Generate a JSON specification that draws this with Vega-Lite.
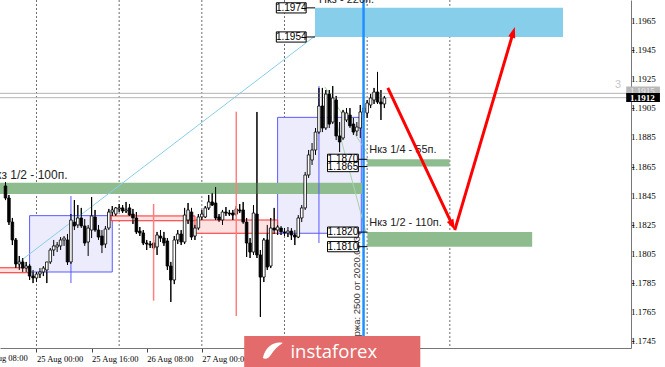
{
"$schema":"https://vega.github.io/schema/vega-lite/v6.json",
"width":631,"height":348,
"autosize":{"type":"none"},
"padding":{"left":0,"top":0,"right":34,"bottom":19},
"background":"white",
"config":{"view":{"stroke":null}},
"datasets":{
"seps":[{"h":24},{"h":48},{"h":72},{"h":96},{"h":120},{"h":144}],
"candles":[
{"h":15,"o":1.18517,"hi":1.18544,"lo":1.18420,"c":1.18434},
{"h":16,"o":1.18434,"hi":1.18455,"lo":1.18249,"c":1.18269},
{"h":17,"o":1.18269,"hi":1.18297,"lo":1.18111,"c":1.18146},
{"h":18,"o":1.18146,"hi":1.18159,"lo":1.17953,"c":1.17981},
{"h":19,"o":1.17981,"hi":1.18036,"lo":1.17940,"c":1.17995},
{"h":20,"o":1.17995,"hi":1.18022,"lo":1.17926,"c":1.17953},
{"h":21,"o":1.17953,"hi":1.17995,"lo":1.17926,"c":1.17967},
{"h":22,"o":1.17967,"hi":1.17981,"lo":1.17871,"c":1.17898},
{"h":23,"o":1.17898,"hi":1.17940,"lo":1.17850,"c":1.17885},
{"h":24,"o":1.17885,"hi":1.17926,"lo":1.17857,"c":1.17912},
{"h":25,"o":1.17912,"hi":1.17953,"lo":1.17885,"c":1.17926},
{"h":26,"o":1.17926,"hi":1.17967,"lo":1.17898,"c":1.17953},
{"h":27,"o":1.17940,"hi":1.17988,"lo":1.17850,"c":1.17995},
{"h":28,"o":1.17995,"hi":1.18091,"lo":1.17981,"c":1.18077},
{"h":29,"o":1.18077,"hi":1.18146,"lo":1.18036,"c":1.18105},
{"h":30,"o":1.18098,"hi":1.18132,"lo":1.18063,"c":1.18111},
{"h":31,"o":1.18105,"hi":1.18166,"lo":1.18077,"c":1.18146},
{"h":32,"o":1.18146,"hi":1.18173,"lo":1.18105,"c":1.18159},
{"h":33,"o":1.18146,"hi":1.18187,"lo":1.17974,"c":1.17995},
{"h":34,"o":1.17995,"hi":1.18324,"lo":1.17981,"c":1.18283},
{"h":35,"o":1.18269,"hi":1.18420,"lo":1.18214,"c":1.18242},
{"h":36,"o":1.18249,"hi":1.18386,"lo":1.18228,"c":1.18297},
{"h":37,"o":1.18297,"hi":1.18366,"lo":1.18228,"c":1.18242},
{"h":38,"o":1.18242,"hi":1.18290,"lo":1.18105,"c":1.18125},
{"h":39,"o":1.18132,"hi":1.18249,"lo":1.18036,"c":1.18228},
{"h":40,"o":1.18214,"hi":1.18441,"lo":1.18159,"c":1.18311},
{"h":41,"o":1.18304,"hi":1.18352,"lo":1.18201,"c":1.18214},
{"h":42,"o":1.18214,"hi":1.18249,"lo":1.18146,"c":1.18166},
{"h":43,"o":1.18173,"hi":1.18214,"lo":1.18056,"c":1.18111},
{"h":44,"o":1.18118,"hi":1.18242,"lo":1.18091,"c":1.18221},
{"h":45,"o":1.18228,"hi":1.18359,"lo":1.18214,"c":1.18338},
{"h":46,"o":1.18338,"hi":1.18379,"lo":1.18311,"c":1.18352},
{"h":47,"o":1.18324,"hi":1.18372,"lo":1.18311,"c":1.18366},
{"h":48,"o":1.18359,"hi":1.18393,"lo":1.18338,"c":1.18366},
{"h":49,"o":1.18366,"hi":1.18386,"lo":1.18331,"c":1.18345},
{"h":50,"o":1.18345,"hi":1.18407,"lo":1.18331,"c":1.18352},
{"h":51,"o":1.18366,"hi":1.18393,"lo":1.18311,"c":1.18317},
{"h":52,"o":1.18324,"hi":1.18359,"lo":1.18256,"c":1.18297},
{"h":53,"o":1.18297,"hi":1.18338,"lo":1.18187,"c":1.18201},
{"h":54,"o":1.18207,"hi":1.18235,"lo":1.18173,"c":1.18194},
{"h":55,"o":1.18194,"hi":1.18214,"lo":1.18111,"c":1.18125},
{"h":56,"o":1.18125,"hi":1.18146,"lo":1.18077,"c":1.18118},
{"h":57,"o":1.18118,"hi":1.18139,"lo":1.18091,"c":1.18111},
{"h":58,"o":1.18125,"hi":1.18146,"lo":1.18077,"c":1.18091},
{"h":59,"o":1.18098,"hi":1.18201,"lo":1.18043,"c":1.18180},
{"h":60,"o":1.18173,"hi":1.18214,"lo":1.18132,"c":1.18159},
{"h":61,"o":1.18159,"hi":1.18201,"lo":1.18105,"c":1.18125},
{"h":62,"o":1.18139,"hi":1.18159,"lo":1.17940,"c":1.17967},
{"h":63,"o":1.17967,"hi":1.17995,"lo":1.17720,"c":1.17871},
{"h":64,"o":1.17871,"hi":1.18173,"lo":1.17843,"c":1.18146},
{"h":65,"o":1.18146,"hi":1.18214,"lo":1.18118,"c":1.18187},
{"h":66,"o":1.18187,"hi":1.18214,"lo":1.18111,"c":1.18132},
{"h":67,"o":1.18132,"hi":1.18366,"lo":1.18118,"c":1.18317},
{"h":68,"o":1.18283,"hi":1.18400,"lo":1.18256,"c":1.18352},
{"h":69,"o":1.18338,"hi":1.18366,"lo":1.18146,"c":1.18166},
{"h":70,"o":1.18173,"hi":1.18249,"lo":1.18146,"c":1.18228},
{"h":71,"o":1.18228,"hi":1.18324,"lo":1.18214,"c":1.18304},
{"h":72,"o":1.18304,"hi":1.18352,"lo":1.18283,"c":1.18324},
{"h":73,"o":1.18304,"hi":1.18379,"lo":1.18297,"c":1.18366},
{"h":74,"o":1.18366,"hi":1.18455,"lo":1.18352,"c":1.18407},
{"h":75,"o":1.18407,"hi":1.18469,"lo":1.18379,"c":1.18386},
{"h":76,"o":1.18400,"hi":1.18510,"lo":1.18283,"c":1.18297},
{"h":77,"o":1.18304,"hi":1.18324,"lo":1.18269,"c":1.18283},
{"h":78,"o":1.18283,"hi":1.18352,"lo":1.18249,"c":1.18338},
{"h":79,"o":1.18338,"hi":1.18372,"lo":1.18311,"c":1.18331},
{"h":80,"o":1.18331,"hi":1.18352,"lo":1.18311,"c":1.18324},
{"h":81,"o":1.18331,"hi":1.18352,"lo":1.18283,"c":1.18317},
{"h":82,"o":1.18324,"hi":1.18379,"lo":1.18311,"c":1.18359},
{"h":83,"o":1.18352,"hi":1.18393,"lo":1.18331,"c":1.18345},
{"h":84,"o":1.18352,"hi":1.18407,"lo":1.18256,"c":1.18269},
{"h":85,"o":1.18269,"hi":1.18297,"lo":1.18029,"c":1.18125},
{"h":86,"o":1.18125,"hi":1.18159,"lo":1.18022,"c":1.18063},
{"h":87,"o":1.18063,"hi":1.18386,"lo":1.18043,"c":1.18331},
{"h":88,"o":1.18324,"hi":1.19025,"lo":1.18022,"c":1.18043},
{"h":89,"o":1.18043,"hi":1.18077,"lo":1.17617,"c":1.17891},
{"h":90,"o":1.17891,"hi":1.18159,"lo":1.17857,"c":1.18146},
{"h":91,"o":1.18146,"hi":1.18249,"lo":1.17940,"c":1.17960},
{"h":92,"o":1.17967,"hi":1.18297,"lo":1.17953,"c":1.18228},
{"h":93,"o":1.18228,"hi":1.18366,"lo":1.18187,"c":1.18214},
{"h":94,"o":1.18214,"hi":1.18249,"lo":1.18180,"c":1.18235},
{"h":95,"o":1.18228,"hi":1.18242,"lo":1.18180,"c":1.18201},
{"h":96,"o":1.18201,"hi":1.18228,"lo":1.18173,"c":1.18194},
{"h":97,"o":1.18194,"hi":1.18235,"lo":1.18166,"c":1.18207},
{"h":98,"o":1.18207,"hi":1.18228,"lo":1.18146,"c":1.18180},
{"h":99,"o":1.18180,"hi":1.18214,"lo":1.18111,"c":1.18166},
{"h":100,"o":1.18166,"hi":1.18317,"lo":1.18159,"c":1.18297},
{"h":101,"o":1.18297,"hi":1.18386,"lo":1.18269,"c":1.18366},
{"h":102,"o":1.18366,"hi":1.18613,"lo":1.18352,"c":1.18592},
{"h":103,"o":1.18592,"hi":1.18764,"lo":1.18572,"c":1.18730},
{"h":104,"o":1.18695,"hi":1.18812,"lo":1.18661,"c":1.18764},
{"h":105,"o":1.18764,"hi":1.18915,"lo":1.18730,"c":1.18887},
{"h":106,"o":1.18887,"hi":1.19190,"lo":1.18874,"c":1.19066},
{"h":107,"o":1.19066,"hi":1.19190,"lo":1.18887,"c":1.18915},
{"h":108,"o":1.18915,"hi":1.19176,"lo":1.18901,"c":1.19148},
{"h":109,"o":1.19148,"hi":1.19176,"lo":1.18915,"c":1.18942},
{"h":110,"o":1.18956,"hi":1.19203,"lo":1.18942,"c":1.19121},
{"h":111,"o":1.19107,"hi":1.19135,"lo":1.18832,"c":1.18860},
{"h":112,"o":1.18860,"hi":1.18956,"lo":1.18750,"c":1.18819},
{"h":113,"o":1.18846,"hi":1.19039,"lo":1.18832,"c":1.19025},
{"h":114,"o":1.18970,"hi":1.19052,"lo":1.18956,"c":1.19018},
{"h":115,"o":1.19004,"hi":1.19052,"lo":1.18915,"c":1.18929},
{"h":116,"o":1.18942,"hi":1.18984,"lo":1.18867,"c":1.18887},
{"h":117,"o":1.18894,"hi":1.18956,"lo":1.18860,"c":1.18922},
{"h":118,"o":1.18915,"hi":1.19073,"lo":1.18846,"c":1.19025},
{"h":119,"o":1.19025,"hi":1.19080,"lo":1.18984,"c":1.19052},
{"h":120,"o":1.19018,"hi":1.19107,"lo":1.18984,"c":1.19087},
{"h":121,"o":1.19073,"hi":1.19148,"lo":1.19052,"c":1.19121},
{"h":122,"o":1.19107,"hi":1.19190,"lo":1.19080,"c":1.19162},
{"h":123,"o":1.19162,"hi":1.19300,"lo":1.19080,"c":1.19093},
{"h":124,"o":1.19093,"hi":1.19176,"lo":1.18970,"c":1.19080},
{"h":125,"o":1.19080,"hi":1.19135,"lo":1.19052,"c":1.19121}
],
"bluezone":[{"x1":104.86,"x2":176.86,"y1":1.1974,"y2":1.1954}],
"boxes":[{"x1":22,"x2":46,"y1":1.18313,"y2":1.17926},{"x1":94,"x2":118.3,"y1":1.18988,"y2":1.18192}],
"green":[{"x1":10,"x2":118.66,"y1":1.18539,"y2":1.18462},{"x1":120.1,"x2":143.9,"y1":1.1870,"y2":1.1865},{"x1":120.1,"x2":167.9,"y1":1.1820,"y2":1.1810}],
"pink":[{"x1":10,"x2":22,"y1":1.17955,"y2":1.17921},{"x1":45.7,"x2":70,"y1":1.18311,"y2":1.18278},{"x1":70,"x2":94,"y1":1.18283,"y2":1.18192}],
"fibv":[{"x":34,"y1":1.18448,"y2":1.17850},{"x":106,"y1":1.19203,"y2":1.18125}],
"diag":[{"x1":18.57,"y1":1.17988,"x2":104.86,"y2":1.19547}],
"fan":[{"x1":107.71,"y1":1.19197,"x2":120,"y2":1.18743},{"x1":108.57,"y1":1.19176,"x2":119.71,"y2":1.18194}],
"bidask":[{"p":1.19153},{"p":1.19123}],
"redv":[{"x":58,"y1":1.18393,"y2":1.17729},{"x":82,"y1":1.19027,"y2":1.17624}],
"blueline":[{"h":118.95}],
"vtext":[{"x":117.1,"y":1.17404,"t":"Биржа: 2500 от 2020.08.31"}],
"conn":[{"x1":102.29,"x2":104.86,"y":1.1974},{"x1":102.29,"x2":104.86,"y":1.1954},{"x1":117.43,"x2":120.1,"y":1.1870},{"x1":117.43,"x2":120.1,"y":1.1865},{"x1":117.43,"x2":120.1,"y":1.1820},{"x1":117.43,"x2":120.1,"y":1.1810}],
"tags":[
{"x1":93.63,"x2":102.29,"xc":97.96,"top":1.19775,"bot":1.19705,"p":1.1974,"t":"1.1974"},
{"x1":93.63,"x2":102.29,"xc":97.96,"top":1.19575,"bot":1.19505,"p":1.1954,"t":"1.1954"},
{"x1":108.49,"x2":117.43,"xc":112.96,"top":1.18735,"bot":1.18665,"p":1.1870,"t":"1.1870"},
{"x1":108.49,"x2":117.43,"xc":112.96,"top":1.18685,"bot":1.18615,"p":1.1865,"t":"1.1865"},
{"x1":108.49,"x2":117.43,"xc":112.96,"top":1.18235,"bot":1.18165,"p":1.1820,"t":"1.1820"},
{"x1":108.49,"x2":117.43,"xc":112.96,"top":1.18135,"bot":1.18065,"p":1.1810,"t":"1.1810"}
],
"labelsL":[{"x":120.6,"y":1.18764,"t":"Нкз 1/4 - 55п."},{"x":120.6,"y":1.18263,"t":"Нкз 1/2 - 110п."}],
"labelsR":[{"x":33.0,"y":1.18592,"t":"Нкз 1/2 - 100п."}],
"labelTop":[{"x":106,"y":1.1977,"t":"Нкз - 220п."}],
"arrow1":[{"x1":126.0,"y1":1.19190,"x2":144.69,"y2":1.18251}],
"arrow2":[{"x1":145.43,"y1":1.18214,"x2":162.37,"y2":1.19569}],
"head1":[{"x":144.69,"y":1.18251}],
"head2":[{"x":162.37,"y":1.19569}],
"logo":[{"x1":84.3,"x2":135.43,"y1":1.17486,"y2":1.1725}],
"logotext":[{"x":110.3,"y":1.17376,"t":"instaforex"}],
"logoicon":[{"x":92.6,"y":1.17383}],
"ylabels":[{"p":1.1745,"t":"1.1745"},{"p":1.1765,"t":"1.1765"},{"p":1.1785,"t":"1.1785"},{"p":1.1805,"t":"1.1805"},{"p":1.1825,"t":"1.1825"},{"p":1.1845,"t":"1.1845"},{"p":1.1865,"t":"1.1865"},{"p":1.1885,"t":"1.1885"},{"p":1.1905,"t":"1.1905"},{"p":1.1925,"t":"1.1925"},{"p":1.1945,"t":"1.1945"},{"p":1.1965,"t":"1.1965"}],
"xlabelcut":[{"h":8,"p":1.17363,"t":"24 Aug 08:00"}],
"ptagGray":[{"x1":195.2,"x2":205,"y1":1.19200,"y2":1.19141,"tx":196.3,"ty":1.19172,"t":"1.1915"}],
"ptagBlack":[{"x1":195.2,"x2":205,"y1":1.19155,"y2":1.19093,"tx":196.3,"ty":1.19124,"t":"1.1912"}],
"three":[{"x":192.86,"y":1.19210,"t":"3"}]
},
"layer":[
{"data":{"name":"candles"},"mark":{"type":"rule","color":"#000000","strokeWidth":1},
 "encoding":{"x":{"field":"h","type":"quantitative","scale":{"domain":[14.857,195.143],"nice":false,"zero":false},
   "axis":{"values":[8,24,40,56,72,88,104,120],"labelExpr":"datum.value==8?'24 Aug 08:00':datum.value==24?'25 Aug 00:00':datum.value==40?'25 Aug 16:00':datum.value==56?'26 Aug 08:00':datum.value==72?'27 Aug 00:00':datum.value==88?'27 Aug 16:00':datum.value==104?'28 Aug 08:00':'31 Aug 00:00'",
   "title":null,"grid":false,"labelAlign":"left","labelPadding":2,"tickSize":4,"tickColor":"#444444","domainColor":"#777777","labelFont":"Liberation Sans Narrow","labelFontSize":8.5,"labelColor":"#000000","labelOverlap":false,"labelBound":false,"labelFlush":false}},
 "y":{"field":"lo","type":"quantitative","scale":{"domain":[1.17404,1.19794],"nice":false,"zero":false},
   "axis":{"orient":"right","values":[1.1745,1.1765,1.1785,1.1805,1.1825,1.1845,1.1865,1.1885,1.1905,1.1925,1.1945,1.1965],"labels":false,"title":null,"grid":false,"tickSize":3,"tickColor":"#444444","domainColor":"#777777"}},
 "y2":{"field":"hi"}}},
{"data":{"name":"seps"},"mark":{"type":"rule","color":"#6e6e6e","strokeDash":[2,2],"strokeWidth":1},
 "encoding":{"x":{"field":"h","type":"quantitative"}}},
{"data":{"name":"bluezone"},"mark":{"type":"rect","fill":"#87ceeb","clip":true},
 "encoding":{"x":{"field":"x1","type":"quantitative"},"x2":{"field":"x2"},
 "y":{"field":"y1","type":"quantitative"},"y2":{"field":"y2"}}},
{"data":{"name":"boxes"},"mark":{"type":"rect","fill":"#ececfc","stroke":"#5a5aff","strokeWidth":1,"clip":true},
 "encoding":{"x":{"field":"x1","type":"quantitative"},"x2":{"field":"x2"},
 "y":{"field":"y1","type":"quantitative"},"y2":{"field":"y2"}}},
{"data":{"name":"green"},"mark":{"type":"rect","fill":"#8fbc8f","clip":true},
 "encoding":{"x":{"field":"x1","type":"quantitative"},"x2":{"field":"x2"},
 "y":{"field":"y1","type":"quantitative"},"y2":{"field":"y2"}}},
{"data":{"name":"pink"},"mark":{"type":"rect","fill":"#fde2e2","stroke":"#ff2a2a","strokeWidth":1,"clip":true},
 "encoding":{"x":{"field":"x1","type":"quantitative"},"x2":{"field":"x2"},
 "y":{"field":"y1","type":"quantitative"},"y2":{"field":"y2"}}},
{"data":{"name":"fibv"},"mark":{"type":"rule","color":"#5a5aff","strokeWidth":1},
 "encoding":{"x":{"field":"x","type":"quantitative"},
 "y":{"field":"y1","type":"quantitative"},"y2":{"field":"y2"}}},
{"data":{"name":"diag"},"mark":{"type":"rule","color":"#87ceeb","strokeWidth":1},
 "encoding":{"x":{"field":"x1","type":"quantitative"},"x2":{"field":"x2"},
 "y":{"field":"y1","type":"quantitative"},"y2":{"field":"y2"}}},
{"data":{"name":"fan"},"mark":{"type":"rule","color":"#a6d4a6","strokeWidth":1},
 "encoding":{"x":{"field":"x1","type":"quantitative"},"x2":{"field":"x2"},
 "y":{"field":"y1","type":"quantitative"},"y2":{"field":"y2"}}},
{"data":{"name":"bidask"},"mark":{"type":"rule","color":"#b4b4b4","strokeWidth":1},
 "encoding":{"y":{"field":"p","type":"quantitative"}}},
{"data":{"name":"candles"},"mark":{"type":"rule","color":"#000000","strokeWidth":1},
 "encoding":{"x":{"field":"h","type":"quantitative"},"y":{"field":"lo","type":"quantitative"},"y2":{"field":"hi"}}},
{"data":{"name":"candles"},"mark":{"type":"bar","size":2.6,"stroke":"#000000","strokeWidth":0.8},
 "encoding":{"x":{"field":"h","type":"quantitative"},
 "y":{"field":"o","type":"quantitative"},"y2":{"field":"c"},
 "fill":{"condition":{"test":"datum.c >= datum.o","value":"#ffffff"},"value":"#000000"}}},
{"data":{"name":"redv"},"mark":{"type":"rule","color":"#ff7f7f","strokeWidth":1.5},
 "encoding":{"x":{"field":"x","type":"quantitative"},
 "y":{"field":"y1","type":"quantitative"},"y2":{"field":"y2"}}},
{"data":{"name":"blueline"},"mark":{"type":"rule","color":"#1e90ff","strokeWidth":2.5},
 "encoding":{"x":{"field":"h","type":"quantitative"}}},
{"data":{"name":"vtext"},"mark":{"type":"text","angle":270,"align":"left","baseline":"middle","font":"Liberation Sans","fontSize":9.5,"color":"#333333"},
 "encoding":{"x":{"field":"x","type":"quantitative"},
 "y":{"field":"y","type":"quantitative"},"text":{"field":"t"}}},
{"data":{"name":"conn"},"mark":{"type":"rule","color":"#000000","strokeWidth":1},
 "encoding":{"x":{"field":"x1","type":"quantitative"},"x2":{"field":"x2"},
 "y":{"field":"y","type":"quantitative"}}},
{"data":{"name":"tags"},"mark":{"type":"rect","fill":"#ffffff","stroke":"#000000","strokeWidth":1},
 "encoding":{"x":{"field":"x1","type":"quantitative"},"x2":{"field":"x2"},
 "y":{"field":"top","type":"quantitative"},"y2":{"field":"bot"}}},
{"data":{"name":"tags"},"mark":{"type":"text","align":"center","baseline":"middle","font":"Liberation Sans","fontSize":10,"color":"#000000"},
 "encoding":{"x":{"field":"xc","type":"quantitative"},
 "y":{"field":"p","type":"quantitative"},"text":{"field":"t"}}},
{"data":{"name":"labelsL"},"mark":{"type":"text","align":"left","baseline":"middle","font":"Liberation Sans","fontSize":11,"color":"#222222"},
 "encoding":{"x":{"field":"x","type":"quantitative"},
 "y":{"field":"y","type":"quantitative"},"text":{"field":"t"}}},
{"data":{"name":"labelsR"},"mark":{"type":"text","align":"right","baseline":"middle","font":"Liberation Sans","fontSize":12,"color":"#222222","clip":true},
 "encoding":{"x":{"field":"x","type":"quantitative"},
 "y":{"field":"y","type":"quantitative"},"text":{"field":"t"}}},
{"data":{"name":"labelTop"},"mark":{"type":"text","align":"left","baseline":"alphabetic","font":"Liberation Sans","fontSize":11,"color":"#222222","clip":true},
 "encoding":{"x":{"field":"x","type":"quantitative"},
 "y":{"field":"y","type":"quantitative"},"text":{"field":"t"}}},
{"data":{"name":"arrow1"},"mark":{"type":"rule","color":"#ff0000","strokeWidth":3},
 "encoding":{"x":{"field":"x1","type":"quantitative"},"x2":{"field":"x2"},
 "y":{"field":"y1","type":"quantitative"},"y2":{"field":"y2"}}},
{"data":{"name":"arrow2"},"mark":{"type":"rule","color":"#ff0000","strokeWidth":3},
 "encoding":{"x":{"field":"x1","type":"quantitative"},"x2":{"field":"x2"},
 "y":{"field":"y1","type":"quantitative"},"y2":{"field":"y2"}}},
{"data":{"name":"head1"},"mark":{"type":"point","shape":"M0,-1L0.6,0.8L-0.6,0.8Z","filled":true,"fill":"#ff0000","opacity":1,"size":144,"angle":154.4,"strokeWidth":0},
 "encoding":{"x":{"field":"x","type":"quantitative"},
 "y":{"field":"y","type":"quantitative"}}},
{"data":{"name":"head2"},"mark":{"type":"point","shape":"M0,-1L0.6,0.8L-0.6,0.8Z","filled":true,"fill":"#ff0000","opacity":1,"size":144,"angle":16.7,"strokeWidth":0},
 "encoding":{"x":{"field":"x","type":"quantitative"},
 "y":{"field":"y","type":"quantitative"}}},
{"data":{"name":"ylabels"},"mark":{"type":"text","align":"left","baseline":"middle","font":"Liberation Sans Narrow","fontSize":9,"color":"#000000"},
 "encoding":{"x":{"datum":196.57,"type":"quantitative"},
 "y":{"field":"p","type":"quantitative"},"text":{"field":"t"}}},
{"data":{"name":"xlabelcut"},"mark":{"type":"text","align":"left","baseline":"top","font":"Liberation Sans Narrow","fontSize":8.5,"color":"#000000"},
 "encoding":{"x":{"field":"h","type":"quantitative"},
 "y":{"field":"p","type":"quantitative"},"text":{"field":"t"}}},
{"data":{"name":"logo"},"mark":{"type":"rect","fill":"#e36b6b"},
 "encoding":{"x":{"field":"x1","type":"quantitative"},"x2":{"field":"x2"},
 "y":{"field":"y1","type":"quantitative"},"y2":{"field":"y2"}}},
{"data":{"name":"logotext"},"mark":{"type":"text","align":"center","baseline":"middle","font":"Open Sans","fontSize":18.5,"color":"#ffffff"},
 "encoding":{"x":{"field":"x","type":"quantitative"},
 "y":{"field":"y","type":"quantitative"},"text":{"field":"t"}}},
{"data":{"name":"logoicon"},"mark":{"type":"point","shape":"M-1,0.7C-0.7,-0.6,0.3,-1,1,-0.8C0.5,-0.5,0.1,-0.1,-0.2,0.4C-0.4,0.7,-0.7,0.9,-1,0.7Z","filled":true,"fill":"#ffffff","opacity":1,"size":400,"strokeWidth":0},
 "encoding":{"x":{"field":"x","type":"quantitative"},
 "y":{"field":"y","type":"quantitative"}}},
{"data":{"name":"ptagGray"},"mark":{"type":"rect","fill":"#b8b8b8"},
 "encoding":{"x":{"field":"x1","type":"quantitative"},"x2":{"field":"x2"},
 "y":{"field":"y1","type":"quantitative"},"y2":{"field":"y2"}}},
{"data":{"name":"ptagGray"},"mark":{"type":"text","align":"left","baseline":"middle","font":"Liberation Sans Narrow","fontSize":9,"color":"#eeeeee"},
 "encoding":{"x":{"field":"tx","type":"quantitative"},
 "y":{"field":"ty","type":"quantitative"},"text":{"field":"t"}}},
{"data":{"name":"ptagBlack"},"mark":{"type":"rect","fill":"#000000"},
 "encoding":{"x":{"field":"x1","type":"quantitative"},"x2":{"field":"x2"},
 "y":{"field":"y1","type":"quantitative"},"y2":{"field":"y2"}}},
{"data":{"name":"ptagBlack"},"mark":{"type":"text","align":"left","baseline":"middle","font":"Liberation Sans Narrow","fontSize":9,"fontWeight":"bold","color":"#ffffff"},
 "encoding":{"x":{"field":"tx","type":"quantitative"},
 "y":{"field":"ty","type":"quantitative"},"text":{"field":"t"}}},
{"data":{"name":"three"},"mark":{"type":"text","align":"center","baseline":"middle","font":"Liberation Sans","fontSize":11,"color":"#c8c8c8"},
 "encoding":{"x":{"field":"x","type":"quantitative"},
 "y":{"field":"y","type":"quantitative"},"text":{"field":"t"}}}
]
}
